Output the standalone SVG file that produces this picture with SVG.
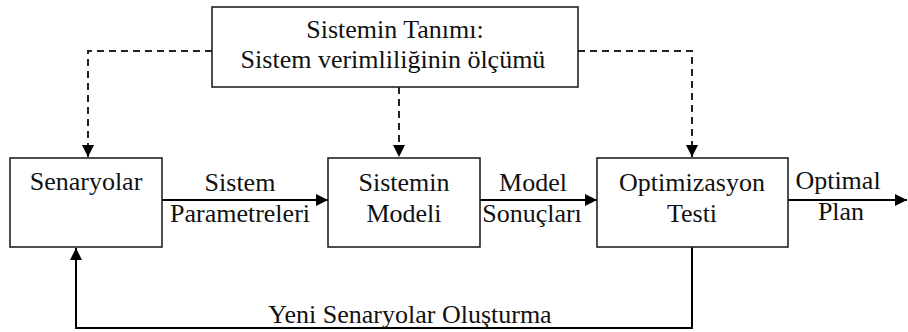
<svg xmlns="http://www.w3.org/2000/svg" width="908" height="332" viewBox="0 0 908 332">
  <style>
    .box { fill: #ffffff; stroke: #222; stroke-width: 1.6; }
    .lbl { font-size: 26px; fill: #111; text-anchor: middle; }
    .solid { fill: none; stroke: #000; stroke-width: 2; }
    .dash { fill: none; stroke: #222; stroke-width: 2; stroke-dasharray: 7 5; }
  </style>
  <defs>
    <marker id="head" viewBox="0 0 12 12" refX="12" refY="6" markerWidth="12" markerHeight="12" markerUnits="userSpaceOnUse" orient="auto">
      <path d="M0,0 L12,6 L0,12 Z" fill="#000"/>
    </marker>
  </defs>

  <rect width="908" height="332" fill="#ffffff"/>

  <g id="connectors">
    <!-- dashed feeds from the system definition -->
    <polyline class="dash" points="212,51 88,51 88,157" marker-end="url(#head)"/>
    <line class="dash" x1="399" y1="87" x2="399" y2="157" marker-end="url(#head)"/>
    <polyline class="dash" points="578,51 692,51 692,157" marker-end="url(#head)"/>
    <!-- main flow -->
    <line class="solid" x1="162" y1="200" x2="328" y2="200" marker-end="url(#head)"/>
    <line class="solid" x1="480" y1="200" x2="597" y2="200" marker-end="url(#head)"/>
    <line class="solid" x1="788" y1="200" x2="907" y2="200" marker-end="url(#head)"/>
    <!-- feedback loop -->
    <polyline class="solid" points="692,247 692,328 76,328 76,248" marker-end="url(#head)"/>
  </g>

  <g font-family="Liberation Serif, Tinos, Times New Roman, Times, Nimbus Roman, FreeSerif, DejaVu Serif, Noto Serif, serif">
    <g id="tanim">
      <rect class="box" x="212" y="7" width="366" height="80"/>
      <text class="lbl" x="395" y="38">Sistemin Tanımı:</text>
      <text class="lbl" x="393" y="68">Sistem verimliliğinin ölçümü</text>
    </g>

    <g id="senaryolar">
      <rect class="box" x="10" y="158" width="152" height="89"/>
      <text class="lbl" x="86" y="190">Senaryolar</text>
    </g>

    <g id="model">
      <rect class="box" x="328" y="158" width="152" height="89"/>
      <text class="lbl" x="404" y="191">Sistemin</text>
      <text class="lbl" x="404" y="222">Modeli</text>
    </g>

    <g id="optimizasyon">
      <rect class="box" x="597" y="158" width="191" height="89"/>
      <text class="lbl" x="692" y="191">Optimizasyon</text>
      <text class="lbl" x="692" y="222">Testi</text>
    </g>

    <g id="labels">
      <text class="lbl" x="240" y="191">Sistem</text>
      <text class="lbl" x="240" y="222">Parametreleri</text>
      <text class="lbl" x="533" y="191">Model</text>
      <text class="lbl" x="532" y="222">Sonuçları</text>
      <text class="lbl" x="838" y="189">Optimal</text>
      <text class="lbl" x="841" y="220">Plan</text>
      <text class="lbl" x="410" y="323">Yeni Senaryolar Oluşturma</text>
    </g>
  </g>
</svg>
